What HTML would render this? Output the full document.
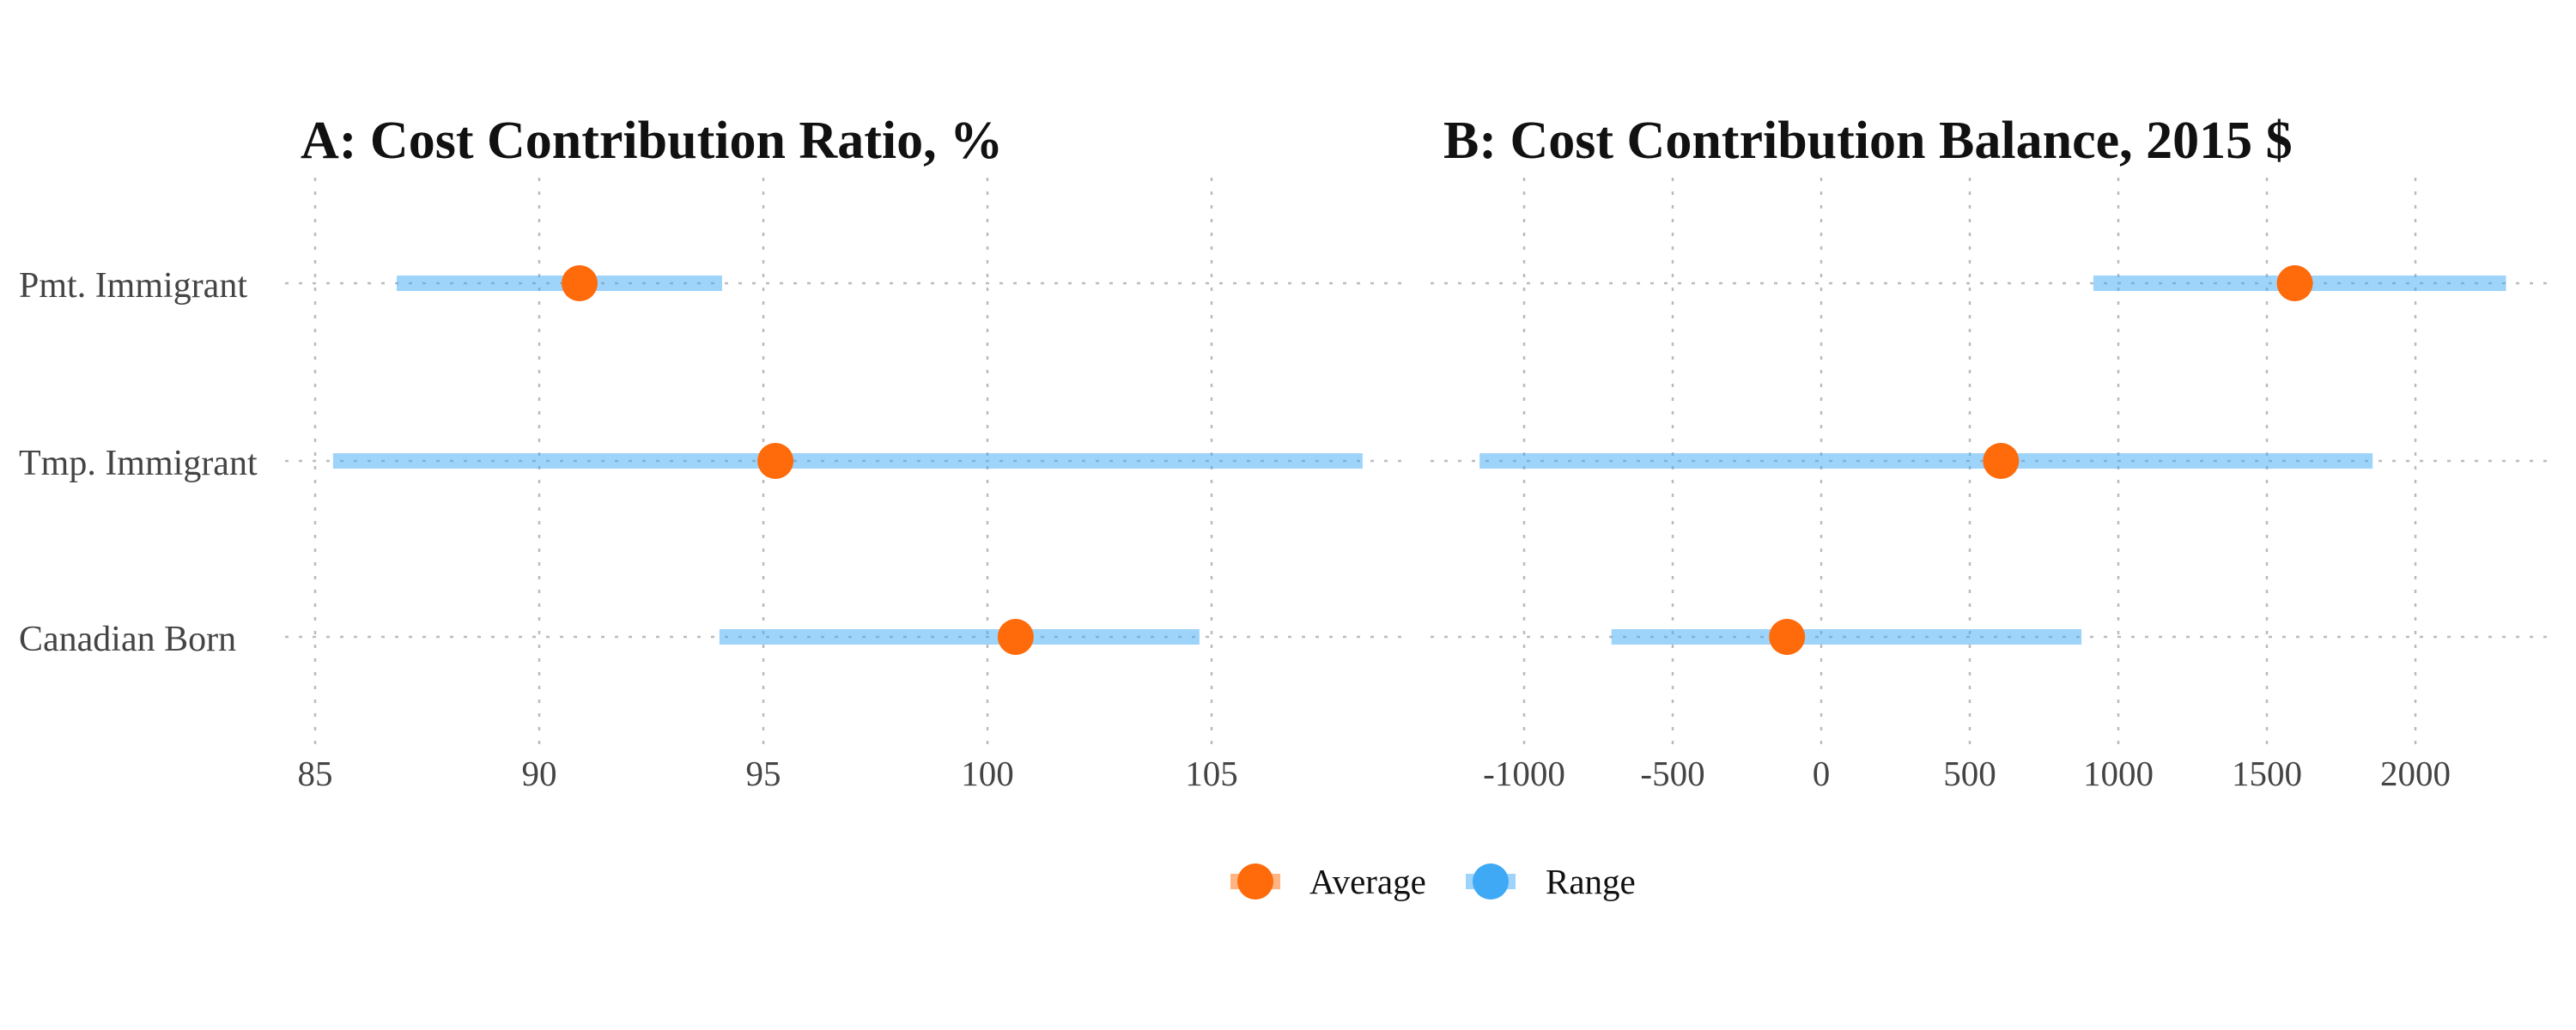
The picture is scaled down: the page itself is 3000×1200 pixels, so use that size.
<!DOCTYPE html>
<html><head><meta charset="utf-8"><style>
html,body{margin:0;padding:0;background:#fff;}
svg{display:block;}
text{font-family:"Liberation Serif",serif;}
</style></head><body>
<svg id="chart" width="3000" height="1200" viewBox="0 0 3000 1200" xmlns="http://www.w3.org/2000/svg">
<rect width="3000" height="1200" fill="#fff"/>
<text x="350" y="184" font-size="62" font-weight="bold" fill="#111">A: Cost Contribution Ratio, %</text>
<text x="1681" y="184" font-size="62" font-weight="bold" fill="#111">B: Cost Contribution Balance, 2015 $</text>
<g id="panelA"></g>
<g id="panelB"></g>
<g id="legend">
  <g>
    <rect x="1433" y="1018" width="58" height="18" fill="#FF6A0A" fill-opacity="0.5"/>
    <circle cx="1462" cy="1027" r="21" fill="#FF6A0A"/>
    <text x="1525" y="1041" font-size="41" fill="#111">Average</text>
  </g>
  <g>
    <rect x="1707" y="1018" width="58" height="18" fill="#3FA9F5" fill-opacity="0.5"/>
    <circle cx="1736" cy="1027" r="21" fill="#3FA9F5"/>
    <text x="1800" y="1041" font-size="41" fill="#111">Range</text>
  </g>
</g>
</svg>
<script>
const categories = ["Pmt. Immigrant", "Tmp. Immigrant", "Canadian Born"];
const ratioLow = [86.82, 85.4, 94.02];
const ratioHigh = [94.08, 108.37, 104.73];
const ratioAvg = [90.9, 95.27, 100.63];
const ratioTicks = [85, 90, 95, 100, 105];
const balLow = [916, -1150, -706];
const balHigh = [2305, 1856, 876];
const balAvg = [1594, 605, -115];
const balTicks = [-1000, -500, 0, 500, 1000, 1500, 2000];

const NS = "http://www.w3.org/2000/svg";
const rowY = [330, 537, 742];
function mk(tag, attrs, parent) {
  const e = document.createElementNS(NS, tag);
  for (const k in attrs) e.setAttribute(k, attrs[k]);
  parent.appendChild(e);
  return e;
}
function drawPanel(g, cfg) {
  const sx = v => cfg.x0 + (v - cfg.v0) * cfg.k;
  cfg.ticks.forEach(t => {
    const l = mk('line', {x1: sx(t), x2: sx(t), y1: 207, y2: 867, stroke: '#bbb', 'stroke-width': 2.5, 'stroke-dasharray': '4,12'}, g);
    
    
    const tx = mk('text', {x: sx(t), y: 915, 'font-size': 41, fill: '#444', 'text-anchor': 'middle'}, g);
    tx.textContent = t;
    
    
  });
  categories.forEach((c, i) => {
    const y = rowY[i];
    const hl = mk('line', {x1: cfg.left, x2: cfg.right, y1: y, y2: y, stroke: '#bbb', 'stroke-width': 2.5, 'stroke-dasharray': '4,12'}, g);
    
    
    if (cfg.labels) {
      const lt = mk('text', {x: 22, y: y + 16, 'font-size': 42, fill: '#444'}, g);
      lt.textContent = c;
      
      
    }
    const b = mk('rect', {x: sx(cfg.low[i]), y: y - 9, width: sx(cfg.high[i]) - sx(cfg.low[i]), height: 18, fill: '#3FA9F5', 'fill-opacity': 0.5}, g);
    
    
    const p = mk('circle', {cx: sx(cfg.avg[i]), cy: y, r: 21, fill: '#FF6A0A'}, g);
    
    
  });
}
drawPanel(document.getElementById('panelA'), {x0: 367, v0: 85, k: 52.2, ticks: ratioTicks, low: ratioLow, high: ratioHigh, avg: ratioAvg, left: 332, right: 1636, labels: true});
drawPanel(document.getElementById('panelB'), {x0: 2121, v0: 0, k: 0.346, ticks: balTicks, low: balLow, high: balHigh, avg: balAvg, left: 1666, right: 2978, labels: false});
</script>
</body></html>
